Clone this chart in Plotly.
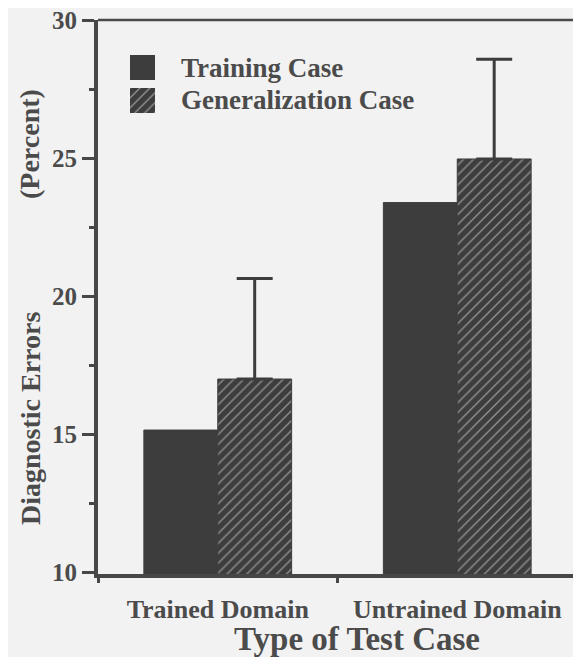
import plotly.graph_objects as go

# ---- data ----
categories = ["Trained Domain", "Untrained Domain"]
training_case = [15.15, 23.4]
generalization_case = [17.0, 24.98]
generalization_upper = [20.65, 28.6]
y_tick_vals = [10, 15, 20, 25, 30]
y_tick_text = ["10", "15", "20", "25", "30"]
series_names = ["Training Case", "Generalization Case"]

# ---- style ----
FONT = "Liberation Serif"
TXT = "#4b4b4b"
DARK = "#3d3d3d"
LIGHT = "#e3e3e3"
BG = "#f2f2f2"

OFF = 8  # page body margin
W, H = 581 - OFF, 657 - OFF
L, R, T, B = 98 - OFF, 4, 20 - OFF, 83
pw, ph = W - L - R, H - T - B


def px_x(x):  # window pixel -> paper
    return (x - OFF - L) / pw


def px_y(y):
    return (H - B - (y - OFF)) / ph


err_plus = [u - g for u, g in zip(generalization_upper, generalization_case)]

fig = go.Figure()
fig.add_trace(go.Bar(
    x=categories, y=training_case, name=series_names[0],
    marker=dict(color=DARK, line=dict(color=DARK, width=1)),
    showlegend=False,
))
fig.add_trace(go.Bar(
    x=categories, y=generalization_case, name=series_names[1],
    marker=dict(color=DARK, line=dict(color=DARK, width=1),
                pattern=dict(shape="/", fgcolor=LIGHT, bgcolor=DARK,
                             size=7, solidity=0.2)),
    error_y=dict(type="data", symmetric=False, array=err_plus,
                 arrayminus=[0] * len(err_plus), color=DARK,
                 thickness=3, width=18),
    showlegend=False,
))

# legend swatches drawn as bars on small helper axes
fig.add_trace(go.Bar(x=[0], y=[1], width=[1], xaxis="x2", yaxis="y2",
                     marker=dict(color=DARK, line=dict(width=0)),
                     showlegend=False, hoverinfo="skip"))
fig.add_trace(go.Bar(x=[0], y=[1], width=[1], xaxis="x3", yaxis="y3",
                     marker=dict(color=DARK, line=dict(width=0),
                                 pattern=dict(shape="/", fgcolor=LIGHT,
                                              bgcolor=DARK, size=7,
                                              solidity=0.2)),
                     showlegend=False, hoverinfo="skip"))

hidden = dict(visible=False, fixedrange=True)
fig.update_layout(
    width=W, height=H,
    margin=dict(l=L, r=R, t=T, b=B, autoexpand=False),
    paper_bgcolor=BG, plot_bgcolor=BG,
    barmode="group", bargap=0.383, bargroupgap=0,
    font=dict(family=FONT, color=TXT),
    xaxis=dict(
        type="category", categoryorder="array", categoryarray=categories,
        range=[-0.5, 1.5], showline=True, linecolor="#474747", linewidth=4,
        ticks="outside", tickson="boundaries", ticklen=5, tickwidth=3,
        tickcolor="#474747", showgrid=False, zeroline=False,
        automargin=False,
        tickfont=dict(family=FONT, size=26, color=TXT, weight="bold"),
        ticklabelstandoff=9,
    ),
    yaxis=dict(
        range=[9.93, 30.02], tickvals=y_tick_vals, ticktext=y_tick_text,
        showline=True, linecolor="#474747", linewidth=4,
        ticks="outside", ticklen=12, tickwidth=3, tickcolor="#474747",
        minor=dict(dtick=2.5, tick0=10, ticks="outside", ticklen=5,
                   tickwidth=3, tickcolor="#474747", showgrid=False),
        showgrid=False, zeroline=False, ticklabeloverflow="allow",
        automargin=False,
        tickfont=dict(family=FONT, size=25, color=TXT, weight="bold"),
    ),
    xaxis2=dict(domain=[px_x(130), px_x(155)], range=[-0.5, 0.5],
                anchor="y2", **hidden),
    yaxis2=dict(domain=[px_y(80), px_y(55)], range=[0, 1],
                anchor="x2", **hidden),
    xaxis3=dict(domain=[px_x(130), px_x(155)], range=[-0.5, 0.5],
                anchor="y3", **hidden),
    yaxis3=dict(domain=[px_y(113), px_y(88)], range=[0, 1],
                anchor="x3", **hidden),
    shapes=[
        dict(type="line", xref="paper", yref="paper", x0=0, x1=1, y0=1, y1=1,
             line=dict(color="#4a4a4a", width=2.5)),
        dict(type="line", xref="paper", yref="paper", x0=1, x1=1, y0=0, y1=1,
             line=dict(color="#4a4a4a", width=2.5)),
    ],
    annotations=[
        dict(text="<b>Training Case</b>", xref="paper", yref="paper",
             x=px_x(179), y=px_y(67.5), xanchor="left", yanchor="middle",
             showarrow=False, font=dict(family=FONT, size=27, color=TXT)),
        dict(text="<b>Generalization Case</b>", xref="paper", yref="paper",
             x=px_x(179), y=px_y(100.5), xanchor="left", yanchor="middle",
             showarrow=False, font=dict(family=FONT, size=27, color=TXT)),
        dict(text="<b>Diagnostic Errors</b>", xref="paper",
             yref="paper", x=px_x(30), y=px_y(419), xanchor="center",
             yanchor="middle", textangle=-90, showarrow=False,
             font=dict(family=FONT, size=28, color=TXT)),
        dict(text="<b>(Percent)</b>", xref="paper",
             yref="paper", x=px_x(30), y=px_y(144), xanchor="center",
             yanchor="middle", textangle=-90, showarrow=False,
             font=dict(family=FONT, size=28, color=TXT)),
        dict(text="<b>Type of Test Case</b>", xref="paper", yref="paper",
             x=px_x(357), y=px_y(639), xanchor="center", yanchor="middle",
             showarrow=False, font=dict(family=FONT, size=33, color=TXT)),
    ],
)

fig.write_html("out.html")
